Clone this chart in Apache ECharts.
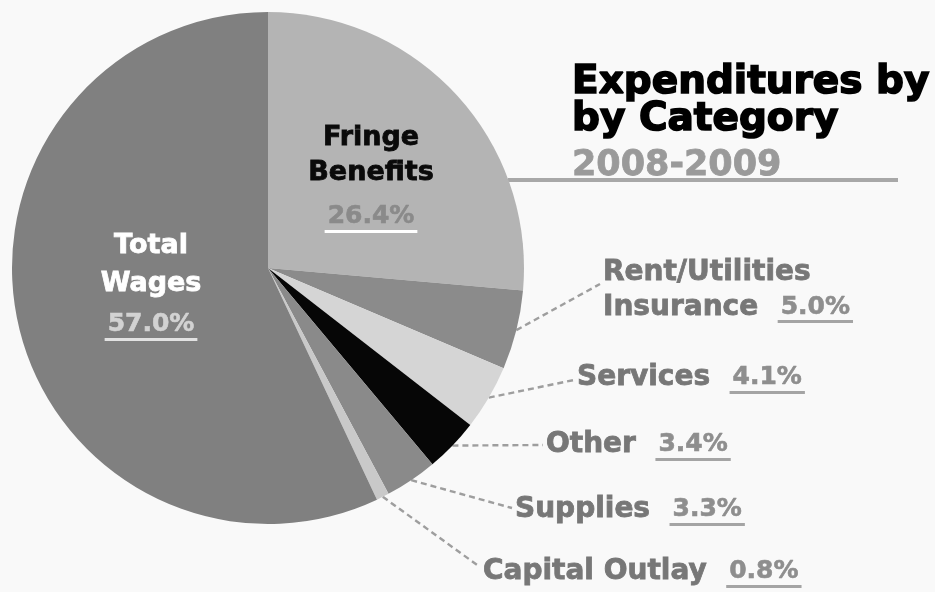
<!DOCTYPE html>
<html>
<head>
<meta charset="utf-8">
<script src="https://cdn.jsdelivr.net/npm/echarts@6/dist/echarts.min.js"></script>
<style>
  html, body { margin: 0; padding: 0; background: #f9f9f9; }
  #chart { width: 935px; height: 592px; }
</style>
</head>
<body>
<div id="chart"></div>
<script>
// Spending categories, clockwise from 12 o'clock
const categories = ['Fringe\nBenefits', 'Rent/Utilities\nInsurance', 'Services', 'Other', 'Supplies', 'Capital Outlay', 'Total\nWages'];
const shares = [26.4, 5.0, 4.1, 3.4, 3.3, 0.8, 57.0];
const sliceColors = ['#b4b4b4', '#8b8b8b', '#d5d5d5', '#060606', '#8a8a8a', '#c9c9c9', '#808080'];
const titleLines = ['Expenditures by', 'by Category'];
const yearRange = '2008-2009';

const FONT = 'DejaVu Sans';

// Where each label block sits; outer labels get a dashed leader ending at `end`
const labelSpots = [
  { x: 371, y: 182, align: 'center' },
  { x: 603, y: 290, align: 'left', end: [600, 284] },
  { x: 577, y: 378, align: 'left', end: [574, 380] },
  { x: 546, y: 445, align: 'left', end: [543, 445] },
  { x: 515, y: 510, align: 'left', end: [512, 508] },
  { x: 483, y: 572, align: 'left', end: [480, 567] },
  { x: 151, y: 287, align: 'center' }
];
const insideIdx = [0, 6];

// Thin rule under a percentage, painted as a hard-stop gradient in the token box
function underline(color) {
  const clear = 'rgba(0,0,0,0)';
  return new echarts.graphic.LinearGradient(0, 0, 0, 1, [
    { offset: 0, color: clear }, { offset: 0.83, color: clear },
    { offset: 0.83, color: color }, { offset: 0.92, color: color },
    { offset: 0.92, color: clear }, { offset: 1, color: clear }
  ]);
}

function pctToken(color, lh, ruleColor) {
  return {
    fontFamily: FONT, fontWeight: 'bold', fontSize: 25, color: color,
    textBorderColor: color, textBorderWidth: 0.6,
    lineHeight: lh, padding: [6, 3, 7, 3], backgroundColor: underline(ruleColor)
  };
}

const insideStyles = {
  0: { nameColor: '#0a0a0a', nameLh: 35, pctColor: '#8a8a8a', pctLh: 54, rule: '#ffffff' },
  6: { nameColor: '#ffffff', nameLh: 38, pctColor: '#d2d2d2', pctLh: 44, rule: '#e2e2e2' }
};

const pieData = categories.map((name, i) => {
  const item = { name: name, value: shares[i], itemStyle: { color: sliceColors[i] } };
  if (insideIdx.includes(i)) {
    const s = insideStyles[i];
    item.label = {
      position: 'inside',
      rich: {
        b: {
          fontFamily: FONT, fontWeight: 'bold', fontSize: 27, color: s.nameColor,
          textBorderColor: s.nameColor, textBorderWidth: 0.8,
          lineHeight: s.nameLh, align: 'center'
        },
        p: Object.assign(pctToken(s.pctColor, s.pctLh, s.rule), { align: 'center' })
      }
    };
    item.labelLine = { show: false };
  }
  return item;
});

const chart = echarts.init(document.getElementById('chart'), null, { renderer: 'canvas' });

chart.setOption({
  backgroundColor: '#f9f9f9',
  animation: false,
  title: {
    text: titleLines.join('\n'),
    subtext: yearRange,
    left: 572,
    top: 64,
    padding: 0,
    itemGap: 7,
    z: 10,
    textStyle: {
      fontFamily: FONT, fontWeight: 'bold', fontSize: 39, lineHeight: 37, color: '#000000',
      textBorderColor: '#000000', textBorderWidth: 1.6
    },
    subtextStyle: {
      fontFamily: FONT, fontWeight: 'bold', fontSize: 35, lineHeight: 35, color: '#9a9a9a',
      textBorderColor: '#9a9a9a', textBorderWidth: 0.8
    }
  },
  graphic: [{
    type: 'line', z: 0, silent: true,
    shape: { x1: 508, y1: 180, x2: 898, y2: 180 },
    style: { stroke: '#a8a8a8', lineWidth: 4 }
  }],
  series: [{
    type: 'pie',
    center: [268, 268],
    radius: 256,
    startAngle: 90,
    clockwise: true,
    avoidLabelOverlap: false,
    silent: true,
    emphasis: { disabled: true },
    data: pieData,
    label: {
      show: true,
      position: 'outside',
      formatter: function (p) {
        const pct = p.value.toFixed(1) + '%';
        const lines = p.name.split('\n');
        if (insideIdx.includes(p.dataIndex)) {
          return lines.map(s => '{b|' + s + '}').join('\n') + '\n{p|' + pct + '}';
        }
        const last = lines.pop();
        return lines.map(s => '{n|' + s + '}').concat(['{n|' + last + '  }{p|' + pct + '}']).join('\n');
      },
      rich: {
        n: {
          fontFamily: FONT, fontWeight: 'bold', fontSize: 28, color: '#777777', lineHeight: 35,
          textBorderColor: '#777777', textBorderWidth: 0.8
        },
        p: pctToken('#8e8e8e', 35, '#a4a4a4')
      }
    },
    labelLine: {
      show: true,
      smooth: false,
      lineStyle: { color: '#9e9e9e', width: 2.4, type: [6, 4] }
    },
    labelLayout: function (params) {
      const spot = labelSpots[params.dataIndex];
      const out = { x: spot.x, y: spot.y, align: spot.align, verticalAlign: 'middle' };
      if (spot.end && params.labelLinePoints) {
        out.labelLinePoints = [params.labelLinePoints[0], spot.end];
      }
      return out;
    }
  }]
});
</script>
</body>
</html>
